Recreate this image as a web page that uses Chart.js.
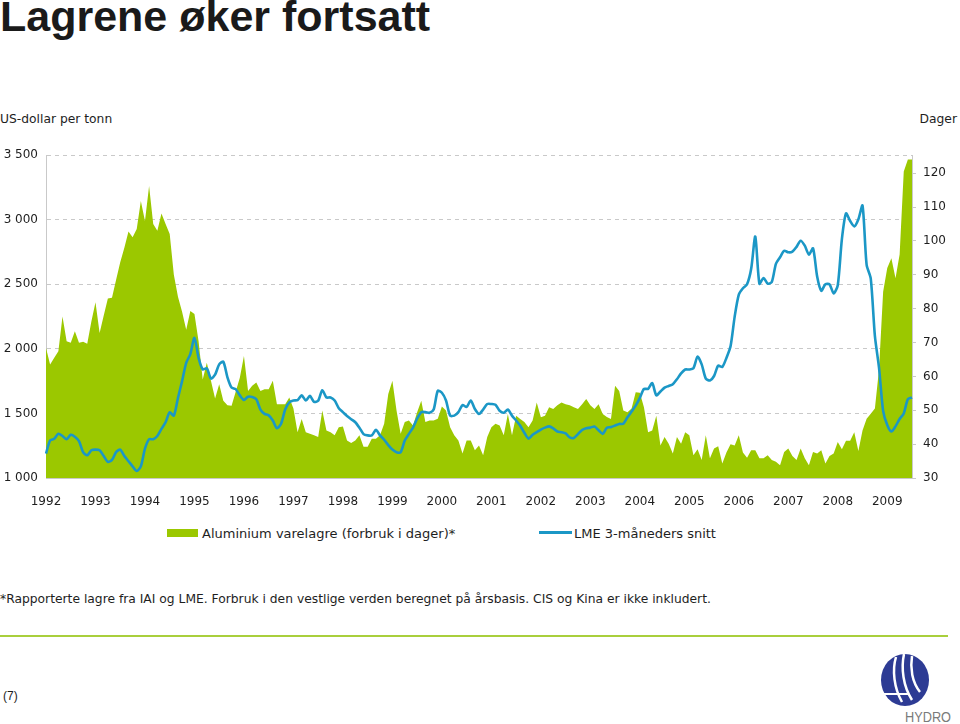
<!DOCTYPE html>
<html>
<head>
<meta charset="utf-8">
<script src="https://cdn.jsdelivr.net/npm/chart.js@4.4.1/dist/chart.umd.min.js"></script>
<style>
  body { margin: 0; width: 960px; height: 724px; background: #fff; position: relative; overflow: hidden;
         font-family: "DejaVu Sans", Verdana, sans-serif; color: #1e1e1e; }
  .abs { position: absolute; white-space: nowrap; }
  #tittel { left: 0; top: -8px; font: bold 43px "Liberation Sans", Arial, sans-serif; color: #1a1a1a; }
  #venstreEnhet { left: 0; top: 112px; font-size: 12.3px; }
  #hoyreEnhet { right: 3px; top: 112px; font-size: 12.3px; }
  #grafBoks { position: absolute; left: 0; top: 140px; width: 960px; height: 368px; }
  .legend { top: 526px; font-size: 13px; }
  .boks { display: inline-block; width: 31px; height: 8px; background: #9bc800; vertical-align: 1px; margin-right: 4px; }
  .strek { display: inline-block; width: 33px; height: 3px; background: #1b97c6; vertical-align: 4px; margin-right: 2px; }
  #fotnote { left: 0; top: 592px; font-size: 12.3px; }
  #linje { position: absolute; left: 0; top: 635px; width: 948px; height: 2px; background: #a9cf3c; }
  #side { left: 3px; top: 689px; font: 12px "Liberation Sans", Arial, sans-serif; }
</style>
</head>
<body>
<div class="abs" id="tittel">Lagrene øker fortsatt</div>
<div class="abs" id="venstreEnhet">US-dollar per tonn</div>
<div class="abs" id="hoyreEnhet">Dager</div>

<div id="grafBoks"><canvas id="graf"></canvas></div>

<div class="abs legend" style="left:167px"><span class="boks"></span>Aluminium varelagre (forbruk i dager)*</div>
<div class="abs legend" style="left:539px"><span class="strek"></span>LME 3-måneders snitt</div>

<div class="abs" id="fotnote">*Rapporterte lagre fra IAI og LME. Forbruk i den vestlige verden beregnet på årsbasis. CIS og Kina er ikke inkludert.</div>
<div id="linje"></div>
<div class="abs" id="side">(7)</div>

<svg class="abs" style="left:872px;top:648px" width="88" height="76">
  <ellipse cx="33" cy="32" rx="24" ry="26" fill="#2d3b94"/>
  <path d="M24 9 C 20 22, 22 40, 30 54" stroke="#fff" stroke-width="2.5" fill="none"/>
  <path d="M32 6 C 29 20, 31 38, 40 52" stroke="#fff" stroke-width="2.5" fill="none"/>
  <path d="M40 8 C 38 20, 40 34, 48 44" stroke="#fff" stroke-width="2.5" fill="none"/>
  <path d="M12 46 L 36 46" stroke="#fff" stroke-width="2" fill="none"/>
  <text x="33" y="74" font-family="Liberation Sans, Arial" font-size="15" fill="#7a7a7a" textLength="46" lengthAdjust="spacingAndGlyphs">HYDRO</text>
</svg>

<script>
// År på x-aksen (en etikett per januar)
const aar = ['1992', '1993', '1994', '1995', '1996', '1997', '1998', '1999', '2000',
             '2001', '2002', '2003', '2004', '2005', '2006', '2007', '2008', '2009'];

// Aluminium varelagre, forbruk i dager (høyre akse), jan 1992 - jul 2009
const lagerDager = [
  68.4, 63.5, 65.5, 67.4, 77.7, 70.4, 69.9, 73.3, 69.9, 70.2, 69.6, 76.2,
  81.9, 72.8, 78.0, 83.0, 83.2, 88.5, 93.7, 98.0, 102.8, 101.1, 103.5, 111.8,
  105.9, 116.2, 105.0, 103.0, 108.1, 105.0, 102.0, 90.0, 83.5, 79.1, 73.8, 79.3,
  78.4, 70.4, 59.1, 64.0, 58.7, 53.5, 57.7, 52.8, 51.5, 51.3, 55.5, 59.6,
  66.0, 55.7, 57.2, 58.2, 55.7, 56.2, 56.2, 58.7, 51.8, 51.8, 51.8, 53.8,
  50.5, 43.5, 47.4, 43.5, 43.1, 42.6, 42.1, 49.9, 44.0, 43.5, 42.6, 45.0,
  45.2, 41.1, 40.3, 41.1, 42.6, 39.2, 39.2, 41.6, 41.6, 42.6, 46.0, 54.8,
  58.7, 49.9, 43.1, 46.5, 47.0, 45.5, 49.4, 52.8, 46.5, 47.0, 47.0, 47.5,
  51.1, 49.9, 45.0, 42.6, 41.1, 37.2, 41.1, 41.1, 38.2, 39.6, 36.7, 42.1,
  45.0, 46.0, 45.5, 42.6, 48.9, 42.6, 48.4, 47.4, 46.5, 45.0, 47.0, 52.3,
  47.9, 48.4, 50.9, 50.4, 51.5, 52.3, 51.8, 51.5, 50.9, 50.4, 51.8, 53.3,
  51.5, 50.4, 51.8, 48.9, 48.0, 47.4, 57.2, 55.7, 49.9, 49.4, 50.5, 55.3,
  55.2, 50.9, 43.5, 44.0, 48.4, 39.6, 42.1, 40.1, 37.2, 42.1, 40.1, 43.5,
  42.6, 36.7, 38.5, 35.3, 42.6, 35.8, 38.7, 39.4, 34.3, 37.5, 40.0, 39.6,
  42.6, 37.5, 36.0, 38.2, 38.2, 35.8, 35.8, 36.7, 35.3, 34.8, 33.8, 37.7,
  38.7, 36.5, 35.3, 38.7, 35.8, 33.8, 37.7, 37.2, 38.2, 34.3, 36.5, 37.2,
  40.6, 38.5, 41.0, 41.0, 43.5, 38.0, 44.0, 47.5, 49.0, 50.5, 62.0, 85.0,
  92.0, 94.9, 89.0, 96.0, 120.5, 124.0, 124.0
];

// LME 3-måneders snitt, USD per tonn (venstre akse)
const lmePris = [
  1189, 1291, 1304, 1342, 1325, 1300, 1335, 1320, 1285, 1200, 1176, 1215,
  1220, 1215, 1170, 1125, 1140, 1200, 1220, 1170, 1130, 1090, 1054, 1090,
  1227, 1300, 1300, 1325, 1380, 1432, 1509, 1483, 1620, 1750, 1892, 1960,
  2085, 1930, 1841, 1849, 1770, 1800, 1880, 1900, 1780, 1700, 1688, 1640,
  1605, 1630, 1628, 1610, 1530, 1497, 1485, 1445, 1385, 1420, 1530, 1585,
  1600, 1603, 1640, 1600, 1636, 1590, 1598, 1680, 1624, 1624, 1600, 1540,
  1510, 1480, 1455, 1432, 1390, 1340, 1330, 1330, 1373, 1330, 1296, 1255,
  1220, 1200, 1200, 1290, 1342, 1390, 1460, 1510, 1510, 1505, 1530, 1675,
  1660, 1600, 1483, 1483, 1510, 1565, 1550, 1600, 1534, 1496, 1530, 1573,
  1573, 1567, 1521, 1505, 1530, 1483, 1445, 1405, 1350, 1305, 1335, 1355,
  1375, 1390, 1400, 1385, 1360, 1355, 1345, 1315, 1310, 1340, 1372, 1385,
  1390, 1399, 1370, 1342, 1389, 1394, 1406, 1419, 1420, 1470, 1515, 1560,
  1620, 1690, 1690, 1735, 1640, 1670, 1700, 1713, 1726, 1765, 1810, 1840,
  1840, 1850, 1940, 1880, 1770, 1755, 1790, 1870, 1860, 1930, 2020, 2250,
  2420, 2470, 2500, 2620, 2870, 2505, 2549, 2505, 2518, 2659, 2710, 2760,
  2748, 2753, 2790, 2838, 2799, 2730, 2779, 2560, 2450, 2500, 2500, 2430,
  2493, 2850, 3050, 2990, 2948, 3004, 3110, 2650, 2544, 2100, 1854, 1520,
  1410, 1360, 1400, 1457, 1500, 1611, 1624
];

// Akseområder
const prisMin = 1000, prisMax = 3500, prisSteg = 500;
const dagerMin = 30, dagerMax = 125.3, dagerSteg = 10;

// En etikett per måned, f.eks. "1992-01"
const maaneder = lagerDager.map((_, i) => aar[Math.floor(i / 12)] + '-' + String(i % 12 + 1).padStart(2, '0'));

const grønn = '#9bc800';
const blå = '#1b97c6';
const gridFarge = '#c9c9c9';

Chart.defaults.font.family = '"DejaVu Sans", Verdana, sans-serif';
Chart.defaults.font.size = 12;
Chart.defaults.color = '#1e1e1e';

const ctx = document.getElementById('graf').getContext('2d');
const graf = new Chart(ctx, {
  type: 'line',
  data: {
    labels: maaneder,
    datasets: [{
      label: 'LME 3-måneders snitt',
      data: lmePris,
      yAxisID: 'y',
      borderColor: blå,
      borderWidth: 2.6,
      pointRadius: 0,
      tension: 0.25,
      fill: false
    }, {
      label: 'Aluminium varelagre (forbruk i dager)*',
      data: lagerDager,
      yAxisID: 'y2',
      borderWidth: 0,
      backgroundColor: grønn,
      pointRadius: 0,
      tension: 0,
      fill: 'start'
    }]
  },
  options: {
    responsive: true,
    maintainAspectRatio: false,
    animation: false,
    layout: { padding: { top: 12, left: 0, right: 0, bottom: 0 } },
    plugins: { legend: { display: false }, tooltip: { enabled: false } },
    scales: {
      x: {
        grid: { display: false },
        border: { display: true, color: gridFarge },
        ticks: {
          autoSkip: false,
          maxRotation: 0,
          padding: 9,
          callback: (v, i) => (i % 12 === 0 ? aar[i / 12] : null)
        },
        afterFit: (s) => { s.height = 30; }
      },
      y: {
        position: 'left',
        min: prisMin,
        max: prisMax,
        grid: { color: gridFarge, drawTicks: false },
        border: { display: true, color: gridFarge, dash: [4, 4] },
        ticks: {
          stepSize: prisSteg,
          padding: 8,
          callback: (v) => String(v).replace(/\B(?=(\d{3})+(?!\d))/g, ' ')
        },
        afterFit: (s) => { s.width = 46; }
      },
      y2: {
        position: 'right',
        min: dagerMin,
        max: dagerMax,
        grid: { drawOnChartArea: false, drawTicks: true, tickLength: 4, color: gridFarge },
        border: { display: true, color: gridFarge },
        ticks: { stepSize: dagerSteg, includeBounds: false, padding: 7 },
        afterFit: (s) => { s.width = 48; }
      }
    }
  }
});
</script>
</body>
</html>
